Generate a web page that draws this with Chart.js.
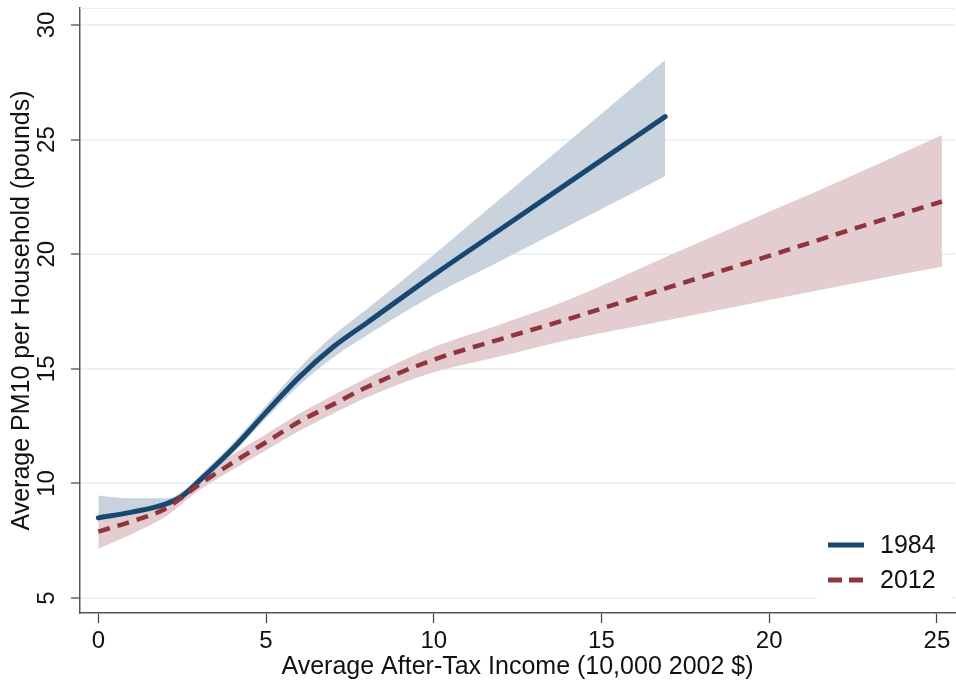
<!DOCTYPE html>
<html lang="en">
<head>
<meta charset="UTF-8" />
<title>PM10 per Household by Income</title>
<script src="https://cdn.jsdelivr.net/npm/chart.js"></script>
<style>
  body { margin: 0; background: #fff; }
  #wrap { width: 956px; height: 684px; }
</style>
</head>
<body>
<div id="wrap"><canvas id="pmChart" width="956" height="684"></canvas></div>
<script>
  // 1984 fit and confidence band
  const income84 = [0, 1, 2, 2.5, 3, 4, 5, 6, 7, 8, 10, 12, 14, 16, 16.9];
  const pm84     = [8.5, 8.75, 9.1, 9.45, 10.1, 11.5, 13.1, 14.65, 15.95, 17.0, 19.1, 21.1, 23.1, 25.1, 26.0];
  const lo84     = [8.35, 8.6, 8.95, 9.3, 9.95, 11.3, 12.85, 14.3, 15.5, 16.45, 18.22, 19.72, 21.22, 22.73, 23.4];
  const hi84     = [9.48, 9.35, 9.35, 9.6, 10.3, 11.75, 13.4, 15.05, 16.45, 17.6, 19.98, 22.44, 24.9, 27.36, 28.47];

  // 2012 fit and confidence band
  const income12 = [0, 1, 2, 3, 4, 5, 6, 7, 8, 10, 12, 14, 17, 20, 22.5, 25.15];
  const pm12     = [7.9, 8.35, 8.9, 9.95, 10.9, 11.8, 12.7, 13.45, 14.2, 15.4, 16.3, 17.17, 18.55, 19.93, 21.1, 22.3];
  const lo12     = [7.15, 7.8, 8.55, 9.7, 10.6, 11.45, 12.3, 13.05, 13.75, 14.85, 15.55, 16.26, 17.13, 18.0, 18.72, 19.45];
  const hi12     = [8.4, 8.7, 9.2, 10.2, 11.25, 12.15, 13.05, 13.85, 14.6, 15.95, 16.95, 18.0, 19.93, 21.85, 23.45, 25.2];

  const seriesNames = ['1984', '2012'];
  const xTicks = [0, 5, 10, 15, 20, 25];
  const yTicks = [5, 10, 15, 20, 25, 30];

  const navy = '#1a476f', navyBand = '#c8d3de';
  const maroon = '#90353b', maroonBand = '#e4cdd0';
  const fontFam = '"Liberation Sans", Arial, sans-serif';

  function pts(xs, ys) { return xs.map((x, i) => ({ x: x, y: ys[i] })); }

  const bandStyle = { pointRadius: 0, borderWidth: 0, cubicInterpolationMode: 'monotone', order: 10 };

  // legend drawn inside the plot, bottom right, on a white box
  const legendBox = {
    id: 'legendBox',
    afterDatasetsDraw(chart) {
      const ctx = chart.ctx, a = chart.chartArea;
      ctx.save();
      // faint plot region outline at the top
      ctx.strokeStyle = '#e6eef0';
      ctx.lineWidth = 1;
      ctx.beginPath();
      ctx.moveTo(a.left, a.top + 0.5);
      ctx.lineTo(a.right, a.top + 0.5);
      ctx.stroke();

      ctx.fillStyle = '#fff';
      ctx.fillRect(a.right - 138, a.bottom - 91, 135, 81);
      const rows = [
        { name: seriesNames[0], color: navy, dash: [], y: a.bottom - 68 },
        { name: seriesNames[1], color: maroon, dash: [14, 7], y: a.bottom - 33 }
      ];
      rows.forEach(r => {
        ctx.beginPath();
        ctx.setLineDash(r.dash);
        ctx.strokeStyle = r.color;
        ctx.lineWidth = 5;
        ctx.moveTo(a.right - 127, r.y);
        ctx.lineTo(a.right - 91, r.y);
        ctx.stroke();
        ctx.setLineDash([]);
        ctx.fillStyle = '#111';
        ctx.font = '25px ' + fontFam;
        ctx.textBaseline = 'middle';
        ctx.fillText(r.name, a.right - 75, r.y + 1);
      });
      ctx.restore();
    }
  };

  new Chart(document.getElementById('pmChart'), {
    type: 'line',
    data: {
      datasets: [
        Object.assign({ label: 'lo84', data: pts(income84, lo84), fill: false, borderColor: navyBand }, bandStyle),
        Object.assign({ label: 'hi84', data: pts(income84, hi84), fill: '-1', backgroundColor: navyBand, borderColor: navyBand }, bandStyle),
        Object.assign({ label: 'lo12', data: pts(income12, lo12), fill: false, borderColor: maroonBand }, bandStyle),
        Object.assign({ label: 'hi12', data: pts(income12, hi12), fill: '-1', backgroundColor: maroonBand, borderColor: maroonBand }, bandStyle),
        {
          label: seriesNames[0], data: pts(income84, pm84), borderColor: navy, borderWidth: 5,
          pointRadius: 0, fill: false, cubicInterpolationMode: 'monotone', borderCapStyle: 'round', order: 2
        },
        {
          label: seriesNames[1], data: pts(income12, pm12), borderColor: maroon, borderWidth: 4.5,
          borderDash: [12, 8], pointRadius: 0, fill: false, cubicInterpolationMode: 'monotone', order: 1
        }
      ]
    },
    options: {
      responsive: false,
      devicePixelRatio: 1,
      animation: false,
      layout: { padding: { top: 8, right: 1, left: 0, bottom: 0 } },
      plugins: { legend: { display: false }, tooltip: { enabled: false } },
      scales: {
        x: {
          type: 'linear', min: -0.546, max: 25.54,
          afterBuildTicks: s => { s.ticks = xTicks.map(v => ({ value: v })); },
          afterFit: s => { s.height = 71; s.paddingLeft = 0; s.paddingRight = 0; },
          grid: { drawOnChartArea: false, drawTicks: true, tickLength: 10, tickColor: '#444', tickWidth: 1.2 },
          border: { color: '#555', width: 1.5 },
          ticks: { color: '#111', font: { family: fontFam, size: 24 }, padding: 4, maxRotation: 0 },
          title: { display: true, text: 'Average After-Tax Income (10,000 2002 $)', color: '#111',
                   font: { family: fontFam, size: 25 }, padding: { top: 0, bottom: 2 } }
        },
        y: {
          type: 'linear', min: 4.35, max: 30.74,
          afterBuildTicks: s => { s.ticks = yTicks.map(v => ({ value: v })); },
          afterFit: s => { s.width = 80; s.paddingTop = 0; s.paddingBottom = 0; },
          grid: { color: '#eaf2f3', lineWidth: 2, drawTicks: true, tickLength: 9, tickColor: '#444', tickWidth: 1.2 },
          border: { color: '#555', width: 1.5 },
          ticks: { color: '#111', font: { family: fontFam, size: 24 }, padding: 10, minRotation: 90, maxRotation: 90, crossAlign: 'center' },
          title: { display: true, text: 'Average PM10 per Household (pounds)', color: '#111',
                   font: { family: fontFam, size: 25 }, padding: { top: 7, bottom: 0 } }
        }
      }
    },
    plugins: [legendBox]
  });
</script>
</body>
</html>
